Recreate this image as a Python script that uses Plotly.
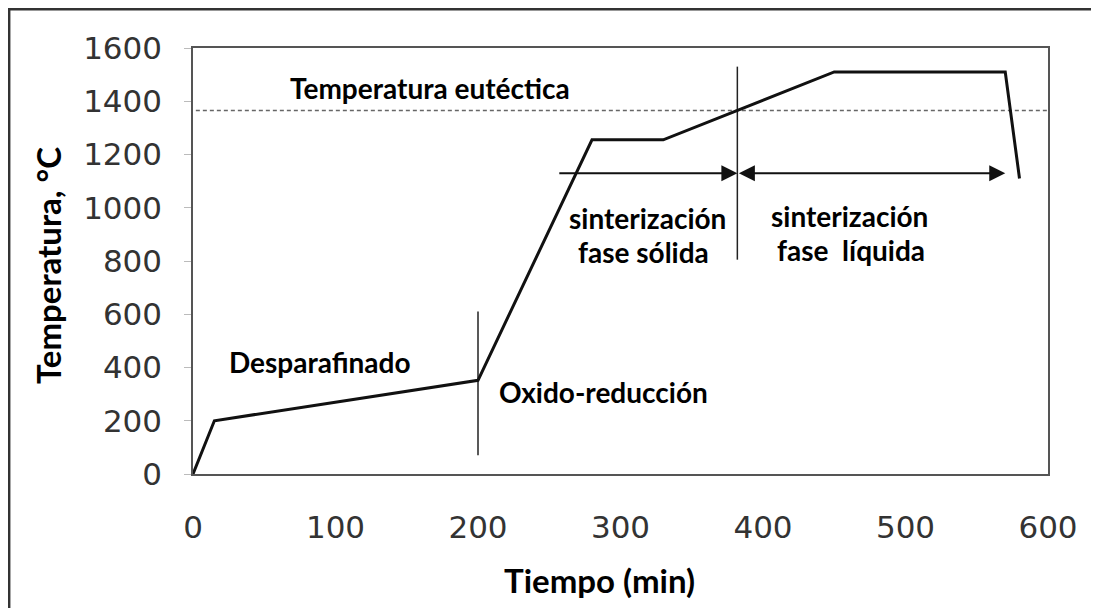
import plotly.graph_objects as go

# ---- data ----
time_min = [0, 15, 200, 280, 330, 450, 570, 580]
temp_c = [0, 200, 352, 1255, 1255, 1510, 1510, 1110]
eutectic_temp = 1365
x_ticks = [0, 100, 200, 300, 400, 500, 600]
y_ticks = [0, 200, 400, 600, 800, 1000, 1200, 1400, 1600]
phase_bound_1 = 200
phase_bound_2 = 382
vline1_range = [70, 610]
vline2_range = [805, 1530]
arrow_temp = 1130
arrow_solid = [256, 382]
arrow_liquid = [382, 570]

LBL = dict(family="Lato", size=28, color="black", weight="bold")
TTL = dict(family="Lato", size=33, color="black", weight="bold")

fig = go.Figure()

# eutectic dashed line
fig.add_trace(go.Scatter(x=[2, 600], y=[eutectic_temp, eutectic_temp], mode="lines",
                         line=dict(color="#666", width=1.5, dash="4px,3px"),
                         hoverinfo="skip", showlegend=False))
# phase boundary vertical lines
fig.add_trace(go.Scatter(x=[phase_bound_1, phase_bound_1], y=vline1_range, mode="lines",
                         line=dict(color="#222", width=1.5), showlegend=False))
fig.add_trace(go.Scatter(x=[phase_bound_2, phase_bound_2], y=vline2_range, mode="lines",
                         line=dict(color="#222", width=1.5), showlegend=False))
# main temperature profile
fig.add_trace(go.Scatter(x=time_min, y=temp_c, mode="lines",
                         line=dict(color="#111", width=3), showlegend=False))

# arrows
fig.add_annotation(x=arrow_solid[1], y=arrow_temp, ax=arrow_solid[0], ay=arrow_temp,
                   xref="x", yref="y", axref="x", ayref="y", text="", showarrow=True,
                   arrowhead=2, arrowsize=1.6, arrowwidth=2, arrowcolor="#111", standoff=0)
fig.add_annotation(x=arrow_liquid[1], y=arrow_temp, ax=arrow_liquid[0], ay=arrow_temp,
                   xref="x", yref="y", axref="x", ayref="y", text="", showarrow=True,
                   arrowhead=2, startarrowhead=2, arrowside="end+start",
                   arrowsize=1.6, startarrowsize=1.6, arrowwidth=2, arrowcolor="#111",
                   standoff=0, startstandoff=0)

# text labels
labels = [
    ("Temperatura eutéctica", 166, 1451),
    ("sinterización", 319, 962),
    ("fase sólida", 316, 835),
    ("sinterización", 461, 968),
    ("fase  líquida", 462, 842),
    ("Desparafinado", 89, 421),
    ("Oxido-reducción", 288, 308),
]
for txt, x, y in labels:
    fig.add_annotation(x=x, y=y, xref="x", yref="y", text=txt, showarrow=False, font=LBL,
                       xanchor="center", yanchor="middle")

# axis titles
fig.add_annotation(x=-0.1696, y=0.4906, xref="paper", yref="paper", text="Temperatura, °C",
                   textangle=-90, showarrow=False, font=TTL, xanchor="center", yanchor="middle")
fig.add_annotation(x=0.476, y=-0.2488, xref="paper", yref="paper", text="Tiempo (min)",
                   showarrow=False, font=TTL, xanchor="center", yanchor="middle")

# outer border (top + left)
fig.add_shape(type="rect", xref="paper", yref="paper", x0=-0.2150, x1=1.3, y0=-0.6, y1=1.0911,
              line=dict(color="#333", width=2.5), layer="above")

fig.update_xaxes(range=[0, 600], tickvals=x_ticks, showgrid=False, zeroline=False,
                 showline=True, mirror=True, linecolor="#555", linewidth=1.5,
                 ticks="", ticklabelstandoff=25,
                 tickfont=dict(family="DejaVu Sans", size=31, color="#333"))
fig.update_yaxes(range=[0, 1600], tickvals=y_ticks, showgrid=False, zeroline=False,
                 showline=True, mirror=True, linecolor="#555", linewidth=1.5,
                 ticks="outside", ticklen=7, tickcolor="#bbb", ticklabelstandoff=16,
                 tickfont=dict(family="DejaVu Sans", size=31, color="#333"))

fig.update_layout(width=1099, height=608, margin=dict(l=185, r=59, t=40, b=142),
                  plot_bgcolor="white", paper_bgcolor="white")

fig.write_html("out.html")
